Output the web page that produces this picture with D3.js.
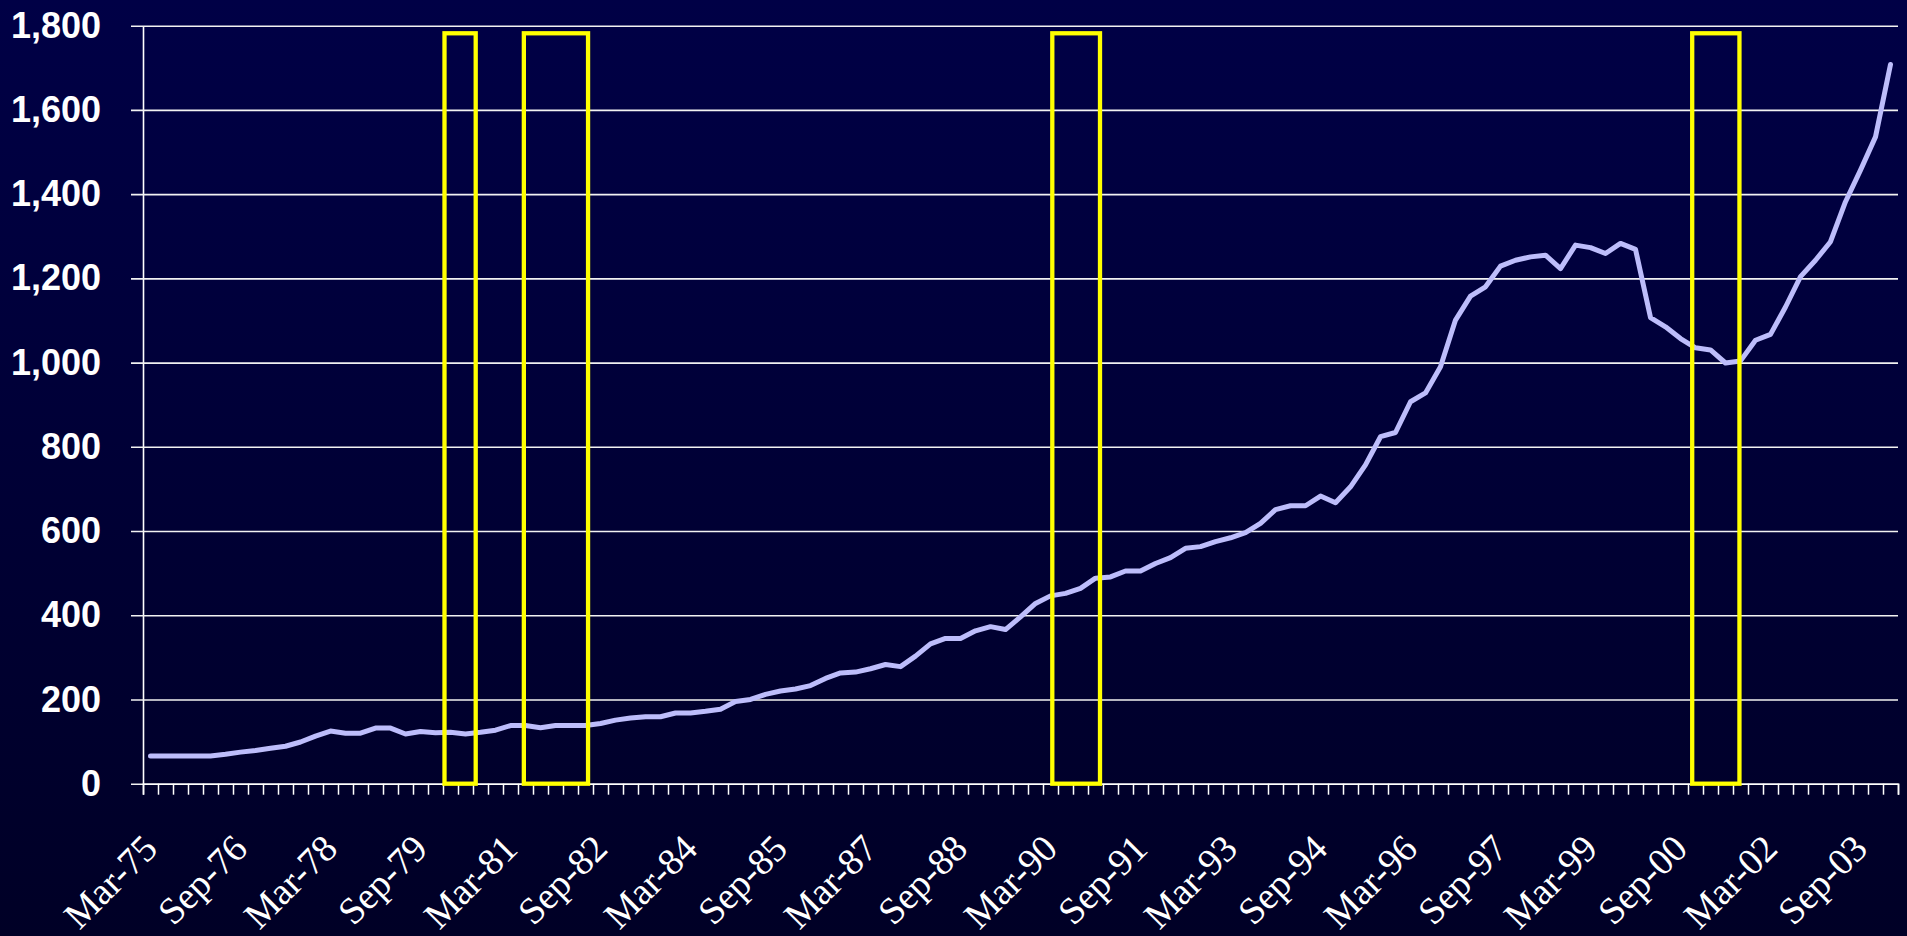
<!DOCTYPE html>
<html>
<head>
<meta charset="utf-8">
<script src="https://cdn.jsdelivr.net/npm/d3@7"></script>
<style>
  html, body { margin: 0; padding: 0; background: #000030; }
  svg { display: block; }
</style>
</head>
<body>
<svg id="chart" width="1907" height="936"></svg>
<script>
// quarterly series, Mar-75 .. Mar-04
const values = [
  66, 66, 66, 66, 66, 70, 75, 79, 84, 89,
  99, 113, 125, 120, 120, 132, 132, 118, 124, 121,
  122, 118, 122, 127, 138, 138, 133, 138, 138, 138,
  143, 151, 156, 159, 159, 168, 168, 172, 177, 195,
  200, 212, 220, 225, 233, 250, 263, 265, 273, 283,
  278, 303, 332, 345, 345, 363, 373, 366, 396, 428,
  446, 452, 464, 488, 491, 505, 505, 523, 537, 559,
  563, 575, 584, 596, 618, 651, 660, 660, 683, 667,
  705, 757, 824, 834, 907, 928, 990, 1101, 1158, 1180,
  1229, 1243, 1251, 1255, 1223, 1279, 1273, 1259, 1283, 1269,
  1107, 1085, 1057, 1035, 1030, 999, 1004, 1053, 1067, 1132,
  1204, 1243, 1287, 1382, 1457, 1536, 1708
];

const monthNames = ['Mar', 'Jun', 'Sep', 'Dec'];
const categories = values.map((v, i) =>
  monthNames[i % 4] + '-' + String((75 + Math.floor(i / 4)) % 100).padStart(2, '0'));

const tickLabels = ['Mar-75', 'Sep-76', 'Mar-78', 'Sep-79', 'Mar-81', 'Sep-82', 'Mar-84',
  'Sep-85', 'Mar-87', 'Sep-88', 'Mar-90', 'Sep-91', 'Mar-93', 'Sep-94', 'Mar-96',
  'Sep-97', 'Mar-99', 'Sep-00', 'Mar-02', 'Sep-03'];

const yTicks = [0, 200, 400, 600, 800, 1000, 1200, 1400, 1600, 1800];

// highlighted periods, in quarter units from Mar-75
const boxStart = [20.1, 25.39, 60.62, 103.28];
const boxEnd = [22.18, 29.67, 63.8, 106.43];
const boxTop = 1782;

const svg = d3.select('#chart');
const W = +svg.attr('width');
const H = +svg.attr('height');
const margin = { top: 25.7, right: 9, bottom: 152.3, left: 143 };
const plotW = W - margin.left - margin.right;
const plotH = H - margin.top - margin.bottom;

const defs = svg.append('defs');
const grad = defs.append('linearGradient')
  .attr('id', 'bg').attr('x1', 0).attr('y1', 0).attr('x2', 0).attr('y2', 1);
grad.append('stop').attr('offset', '0%').attr('stop-color', '#000046');
grad.append('stop').attr('offset', '100%').attr('stop-color', '#000026');

svg.append('rect').attr('width', W).attr('height', H).attr('fill', 'url(#bg)');

const x = d3.scaleLinear().domain([0, values.length]).range([0, plotW]);
const y = d3.scaleLinear().domain([0, 1800]).range([plotH, 0]);

const g = svg.append('g').attr('transform', `translate(${margin.left},${margin.top})`);

// y axis + grid
const yAxis = g.append('g')
  .call(d3.axisLeft(y).tickValues(yTicks).tickSizeInner(12).tickSizeOuter(0)
    .tickPadding(30).tickFormat(d3.format(',')));
yAxis.select('.domain').attr('stroke', '#ffffff').attr('stroke-width', 1.6);
yAxis.selectAll('.tick line')
  .attr('x1', plotW)
  .attr('stroke', '#f2f2f2')
  .attr('stroke-width', 1.6);
yAxis.selectAll('.tick text')
  .attr('fill', '#ffffff')
  .style('font-family', '"Liberation Sans", Arial, sans-serif')
  .style('font-weight', 'bold')
  .style('font-size', '36px');

// x axis ticks at category boundaries
const xAxis = g.append('g')
  .attr('transform', `translate(0,${plotH})`)
  .call(d3.axisBottom(x).tickValues(d3.range(0, values.length + 1))
    .tickSize(11).tickFormat(''));
xAxis.select('.domain').attr('stroke', '#ffffff').attr('stroke-width', 1.6);
xAxis.selectAll('.tick line').attr('stroke', '#ffffff').attr('stroke-width', 1.5);

// rotated category labels
g.append('g')
  .selectAll('text')
  .data(tickLabels)
  .join('text')
  .attr('transform', d => {
    const i = categories.indexOf(d);
    return `translate(${x(i + 0.5) + 9},${plotH + 67}) rotate(-45)`;
  })
  .attr('text-anchor', 'end')
  .attr('fill', '#ffffff')
  .style('font-family', '"Liberation Serif", "Times New Roman", serif')
  .style('font-size', '38px')
  .text(d => d);

// series line
const line = d3.line()
  .x((d, i) => x(i + 0.5))
  .y(d => y(d));

g.append('path')
  .datum(values)
  .attr('d', line)
  .attr('fill', 'none')
  .attr('stroke', '#bdbdfb')
  .attr('stroke-width', 5)
  .attr('stroke-linejoin', 'round')
  .attr('stroke-linecap', 'round');

// yellow boxes
g.append('g')
  .selectAll('rect')
  .data(boxStart)
  .join('rect')
  .attr('x', (d) => x(d))
  .attr('width', (d, i) => x(boxEnd[i]) - x(d))
  .attr('y', y(boxTop))
  .attr('height', y(0) - y(boxTop))
  .attr('fill', 'none')
  .attr('stroke', '#ffff00')
  .attr('stroke-width', 4.3);
</script>
</body>
</html>
